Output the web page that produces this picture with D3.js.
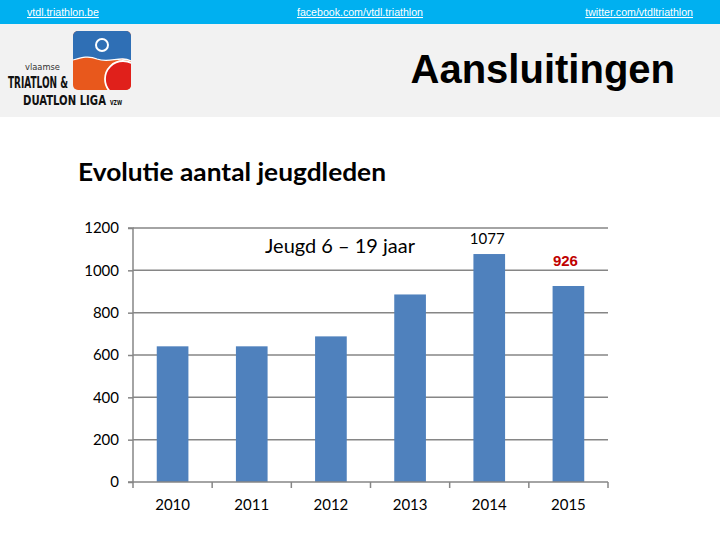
<!DOCTYPE html>
<html><head><meta charset="utf-8">
<script src="https://cdn.jsdelivr.net/npm/d3@7"></script>
<style>body{margin:0;background:#fff}svg{display:block}</style>
</head><body>
<script>
const years = ["2010","2011","2012","2013","2014","2015"];
const members = [641, 641, 688, 886, 1077, 926];
const valueLabels = [null, null, null, null, "1077", "926"];
const yTicks = [0, 200, 400, 600, 800, 1000, 1200];
const headerLinks = ["vtdl.triathlon.be","facebook.com/vtdl.triathlon","twitter.com/vtdltriathlon"];

(function(){
const W = 720, H = 540;
const svg = d3.select("body").append("svg").attr("width", W).attr("height", H);

// header
svg.append("rect").attr("x",0).attr("y",0).attr("width",W).attr("height",24).attr("fill","#00b0f0");
svg.append("rect").attr("x",0).attr("y",24).attr("width",W).attr("height",93).attr("fill","#f2f2f2");
const linkPos = [{x:27,a:"start"},{x:360,a:"middle"},{x:693,a:"end"}];
headerLinks.forEach((t,i)=>{
  svg.append("text").attr("x",linkPos[i].x).attr("y",16).attr("text-anchor",linkPos[i].a)
    .attr("font-family","Liberation Sans, Arial, sans-serif").attr("font-size",10.6)
    .attr("fill","#fff").attr("text-decoration","underline").text(t);
});

// logo
const logo = svg.append("g");
const defs = svg.append("defs");
defs.append("clipPath").attr("id","lc").append("rect").attr("x",73).attr("y",31).attr("width",58).attr("height",59).attr("rx",5);
const lg = logo.append("g").attr("clip-path","url(#lc)");
lg.append("rect").attr("x",73).attr("y",31).attr("width",58).attr("height",59).attr("fill","#e8581c");
lg.append("path").attr("d","M73,31 L131,31 L131,61 C120,55 110,64 97,59 C88,55 80,58 73,60 Z").attr("fill","#2f6fb5");
lg.append("path").attr("d","M73,60 C80,58 88,55 97,59 C110,64 120,55 131,61").attr("fill","none").attr("stroke","#fff").attr("stroke-width",1.2);
lg.append("circle").attr("cx",123).attr("cy",79).attr("r",18).attr("fill","#e0201b").attr("stroke","#fff").attr("stroke-width",1.8);
logo.append("circle").attr("cx",102).attr("cy",45).attr("r",6).attr("fill","none").attr("stroke","#fff").attr("stroke-width",2);
const lf = "DejaVu Sans Condensed, DejaVu Sans, sans-serif";
function fitText(txt, x0, y0, size, weight, width, color){
  const g = logo.append("g");
  const t = g.append("text").attr("x",0).attr("y",0).attr("font-family",lf).attr("font-weight",weight)
    .attr("font-size",size).attr("fill",color).text(txt);
  const w = t.node().getComputedTextLength() || width;
  g.attr("transform",`translate(${x0},${y0}) scale(${width/w},1)`);
}
fitText("vlaamse", 25, 70, 9.5, "normal", 35, "#333");
fitText("TRIATLON &", 8, 88, 16, "bold", 60, "#111");
fitText("DUATLON LIGA", 23, 105, 14, "bold", 83, "#111");
fitText("VZW", 110, 105, 7, "bold", 12, "#111");

svg.append("text").attr("x",675).attr("y",83).attr("text-anchor","end")
  .attr("font-family","Liberation Sans, Arial, sans-serif").attr("font-weight","bold").attr("font-size",40)
  .attr("fill","#000").text("Aansluitingen");

// chart title
svg.append("text").attr("x",78).attr("y",181).attr("font-family","Lato, Open Sans, sans-serif").attr("font-weight","bold")
  .attr("font-size",24).attr("fill","#000").attr("textLength",308).attr("lengthAdjust","spacingAndGlyphs").text("Evolutie aantal jeugdleden");

// chart
const pL = 133, pR = 608, pT = 228, pB = 482;
const x = d3.scaleBand().domain(years).range([pL, pR]).paddingInner(0.6).paddingOuter(0.3);
const xOuter = d3.scaleBand().domain(years).range([pL, pR]);
const y = d3.scaleLinear().domain([0,1200]).range([pB, pT]);
const gridColor = "#868686";

svg.append("g").selectAll("line").data(yTicks.slice(1)).join("line")
  .attr("x1",pL).attr("x2",pR).attr("y1",d=>y(d)).attr("y2",d=>y(d))
  .attr("stroke",gridColor).attr("stroke-width",1.5);

const yAxis = svg.append("g").attr("transform",`translate(${pL},0)`)
  .call(d3.axisLeft(y).tickValues(yTicks).tickSize(5).tickPadding(9).tickFormat(d3.format("d")));
yAxis.select(".domain").attr("stroke",gridColor).attr("stroke-width",1.5).attr("d",`M-5,${pT}H0V${pB}H-5`);
yAxis.selectAll(".tick line").attr("stroke",gridColor).attr("stroke-width",1.5);
yAxis.selectAll(".tick text").attr("font-family","Lato, Open Sans, sans-serif").attr("font-size",15).attr("fill","#000");

svg.append("g").selectAll("rect").data(members).join("rect")
  .attr("x",(d,i)=>x(years[i])).attr("width",x.bandwidth())
  .attr("y",d=>y(d)).attr("height",d=>pB-y(d)).attr("fill","#4f81bd");

const xAxis = svg.append("g").attr("transform",`translate(0,${pB})`)
  .call(d3.axisBottom(xOuter).tickSize(0).tickPadding(17));
xAxis.select(".domain").attr("stroke",gridColor).attr("stroke-width",1.5).attr("d",`M${pL},0H${pR}`);
xAxis.selectAll(".tick text").attr("font-family","Lato, Open Sans, sans-serif").attr("font-size",15).attr("fill","#000");
svg.append("g").selectAll("line").data(years.concat(["end"])).join("line")
  .attr("x1",(d,i)=>pL + i*xOuter.step()).attr("x2",(d,i)=>pL + i*xOuter.step())
  .attr("y1",pB).attr("y2",pB+6).attr("stroke",gridColor).attr("stroke-width",1.5);

// value labels
const labelData = members.map((v,i)=>({v, year: years[i], label: valueLabels[i]})).filter(d=>d.label!==null);
svg.append("g").selectAll("text").data(labelData).join("text")
  .attr("x",d=>x(d.year)+x.bandwidth()/2 + (d.v<1000 ? -3 : -2))
  .attr("y",d=> d.v>1000 ? y(d.v)-10 : y(d.v)-20)
  .attr("text-anchor","middle")
  .attr("font-family",d=> d.v<1000 ? "Liberation Sans, Arial, sans-serif" : "Lato, Open Sans, sans-serif")
  .attr("font-weight",d=> d.v<1000 ? "bold" : "normal")
  .attr("font-size",15).attr("fill",d=> d.v<1000 ? "#c00000" : "#000")
  .text(d=>d.label);

svg.append("text").attr("x",265).attr("y",253)
  .attr("font-family","Lato, Open Sans, sans-serif").attr("font-size",19).attr("fill","#000")
  .attr("textLength",150).attr("lengthAdjust","spacingAndGlyphs").text("Jeugd 6 – 19 jaar");
})();
</script>
</body></html>
